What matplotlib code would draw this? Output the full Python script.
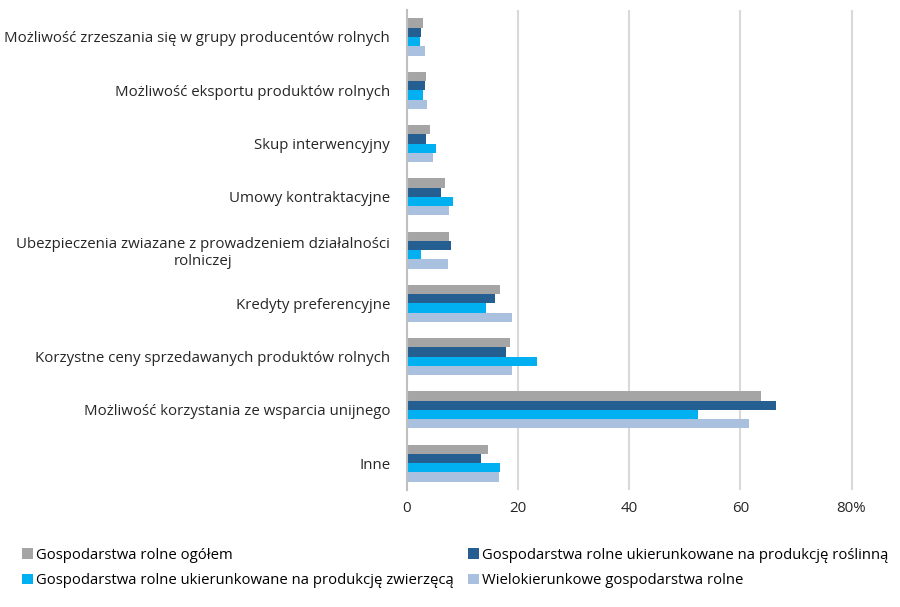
import numpy as np
import matplotlib
matplotlib.use('Agg')
import matplotlib.pyplot as plt
from matplotlib.patches import Patch
from matplotlib.transforms import ScaledTranslation

plt.rcParams['font.family'] = ['Open Sans', 'DejaVu Sans']

categories = [
    'Możliwość zrzeszania się w grupy producentów rolnych',
    'Możliwość eksportu produktów rolnych',
    'Skup interwencyjny',
    'Umowy kontraktacyjne',
    'Ubezpieczenia zwiazane z prowadzeniem działalności\nrolniczej',
    'Kredyty preferencyjne',
    'Korzystne ceny sprzedawanych produktów rolnych',
    'Możliwość korzystania ze wsparcia unijnego',
    'Inne',
]
series_names = [
    'Gospodarstwa rolne ogółem',
    'Gospodarstwa rolne ukierunkowane na produkcję roślinną',
    'Gospodarstwa rolne ukierunkowane na produkcję zwierzęcą',
    'Wielokierunkowe gospodarstwa rolne',
]
ogolem = [3.0, 3.5, 4.1, 6.8, 7.6, 16.8, 18.6, 63.8, 14.6]
roslinna = [2.6, 3.3, 3.5, 6.2, 8.0, 15.8, 17.9, 66.4, 13.3]
zwierzeca = [2.4, 3.0, 5.2, 8.3, 2.6, 14.3, 23.4, 52.3, 16.8]
wielokier = [3.3, 3.7, 4.7, 7.6, 7.4, 18.9, 19.0, 61.6, 16.6]
colors = ['#a5a5a5', '#255e91', '#00b0f0', '#a9c0de']
xticks = [0, 20, 40, 60, 80]
xtick_labels = ['0', '20', '40', '60', '80%']

fig = plt.figure(figsize=(9, 6.07), dpi=100)
ax = fig.add_axes([0.452, 0.193, 0.525, 0.79])

y = np.arange(len(categories))
h = 0.174
for i, (vals, c) in enumerate(zip([ogolem, roslinna, zwierzeca, wielokier], colors)):
    ax.barh(y + (i - 1.5) * h, vals, height=h, color=c, zorder=3)

ax.set_ylim(len(categories) - 0.5, -0.5)
ax.set_xlim(0, 85)
ax.set_yticks(y)
ax.set_yticklabels(categories, fontsize=10.8, color='#262626', multialignment='center')
ax.set_xticks(xticks)
ax.set_xticklabels(xtick_labels, fontsize=10.8, color='#262626')
last = ax.get_xticklabels()[-1]
last.set_transform(last.get_transform() + ScaledTranslation(12 / 100, 0, fig.dpi_scale_trans))
ax.tick_params(axis='both', length=0)
ax.tick_params(axis='y', pad=12)
ax.tick_params(axis='x', pad=8)
ax.grid(axis='x', color='#d9d9d9', linewidth=1.5, zorder=0)
for s in ['top', 'right', 'bottom']:
    ax.spines[s].set_visible(False)
ax.spines['left'].set_color('#bfbfbf')
ax.spines['left'].set_linewidth(1.5)
ax.spines['left'].set_zorder(4)

# legend fills column-wise, so reorder to get row-wise layout
order = [0, 2, 1, 3]
handles = [Patch(facecolor=colors[k], edgecolor='none') for k in order]
labels = [series_names[k] for k in order]
fig.legend(handles, labels, loc='upper left', bbox_to_anchor=(0.01, 0.12),
           ncol=2, frameon=False, fontsize=10.7, handlelength=0.7, handleheight=0.7,
           handletextpad=0.2, columnspacing=1.0, labelspacing=0.7)

fig.savefig('out.png', dpi=100)
